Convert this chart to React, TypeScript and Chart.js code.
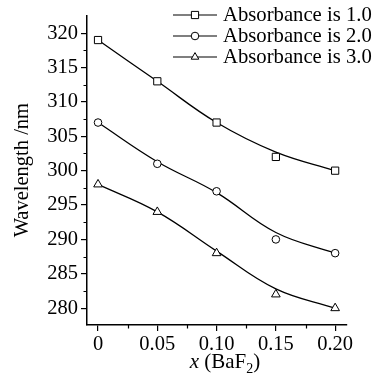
import React, { useEffect, useRef } from "react";
import { Chart, registerables } from "chart.js";

Chart.register(...registerables);

const xValues = [0, 0.05, 0.1, 0.15, 0.2];
const series1 = [319, 313, 307, 302, 300];
const series2 = [307, 301, 297, 290, 288];
const series3 = [298, 294, 288, 282, 280];
const fit1 = [319, 313, 307, 302.7, 300];
const fit2 = [307, 301.3, 296.8, 291, 288];
const fit3 = [298, 294, 288.3, 282.8, 280];
const seriesLabels = ["Absorbance is 1.0", "Absorbance is 2.0", "Absorbance is 3.0"];
const xTickValues = [0, 0.05, 0.1, 0.15, 0.2];
const xTickLabels = ["0", "0.05", "0.10", "0.15", "0.20"];
const xMinorTicks = [0.025, 0.075, 0.125, 0.175];
const yTickValues = [280, 285, 290, 295, 300, 305, 310, 315, 320];
const yMinorTicks = [282.5, 287.5, 292.5, 297.5, 302.5, 307.5, 312.5, 317.5];

const FONT = "'Liberation Serif', 'Times New Roman', serif";
const styles = ["rect", "circle", "triangle"];

function drawMarker(ctx: CanvasRenderingContext2D, style: string, x: number, y: number) {
  ctx.save();
  ctx.beginPath();
  if (style === "rect") {
    ctx.rect(x - 3.6, y - 3.6, 7.2, 7.2);
  } else if (style === "circle") {
    ctx.arc(x, y, 3.8, 0, Math.PI * 2);
  } else {
    const r = 4.4;
    ctx.moveTo(x, y - r);
    ctx.lineTo(x + r * 0.866, y + r * 0.5);
    ctx.lineTo(x - r * 0.866, y + r * 0.5);
    ctx.closePath();
  }
  ctx.fillStyle = "#fff";
  ctx.fill();
  ctx.strokeStyle = "#000";
  ctx.lineWidth = 1;
  ctx.stroke();
  ctx.restore();
}

const extrasPlugin = {
  id: "extras",
  afterDraw(chart: any) {
    const ctx = chart.ctx as CanvasRenderingContext2D;
    const xs = chart.scales.x;
    const ys = chart.scales.y;
    const area = chart.chartArea;
    ctx.save();
    ctx.strokeStyle = "#000";
    ctx.lineWidth = 1.2;
    // minor ticks
    ctx.beginPath();
    xMinorTicks.forEach((v) => {
      const px = Math.round(xs.getPixelForValue(v)) + 0.5;
      ctx.moveTo(px, area.bottom);
      ctx.lineTo(px, area.bottom + 3.5);
    });
    yMinorTicks.forEach((v) => {
      const py = Math.round(ys.getPixelForValue(v)) + 0.5;
      ctx.moveTo(area.left, py);
      ctx.lineTo(area.left - 3.5, py);
    });
    ctx.stroke();

    // legend
    const legendY = [15, 36, 57];
    ctx.font = `20.7px ${FONT}`;
    ctx.textBaseline = "middle";
    ctx.fillStyle = "#000";
    seriesLabels.forEach((lab, i) => {
      const y = legendY[i];
      ctx.beginPath();
      ctx.lineWidth = 1.2;
      ctx.moveTo(173, y);
      ctx.lineTo(217, y);
      ctx.stroke();
      drawMarker(ctx, styles[i], 195, y);
      ctx.fillStyle = "#000";
      ctx.fillText(lab, 223, y + 1);
    });

    // x axis title
    const cx = (area.left + area.right) / 2 + 8;
    const by = 368;
    ctx.textBaseline = "alphabetic";
    const partA = "x";
    const partB = " (BaF";
    const partC = "2";
    const partD = ")";
    ctx.font = `italic 21px ${FONT}`;
    const wA = ctx.measureText(partA).width;
    ctx.font = `21px ${FONT}`;
    const wB = ctx.measureText(partB).width;
    const wD = ctx.measureText(partD).width;
    ctx.font = `14px ${FONT}`;
    const wC = ctx.measureText(partC).width;
    let x = cx - (wA + wB + wC + wD) / 2;
    ctx.font = `italic 21px ${FONT}`;
    ctx.fillText(partA, x, by);
    x += wA;
    ctx.font = `21px ${FONT}`;
    ctx.fillText(partB, x, by);
    x += wB;
    ctx.font = `14px ${FONT}`;
    ctx.fillText(partC, x, by + 5);
    x += wC;
    ctx.font = `21px ${FONT}`;
    ctx.fillText(partD, x, by);
    ctx.restore();
  },
};

function pts(ys: number[]) {
  return xValues.map((x, i) => ({ x, y: ys[i] }));
}

export default function App() {
  const ref = useRef<HTMLCanvasElement>(null);
  useEffect(() => {
    if (!ref.current) return;
    const fits = [fit1, fit2, fit3];
    const sers = [series1, series2, series3];
    const datasets: any[] = [];
    fits.forEach((f) => {
      datasets.push({
        data: pts(f),
        borderColor: "#000",
        borderWidth: 1.3,
        pointRadius: 0,
        showLine: true,
        tension: 0.4,
        fill: false,
        order: 2,
      });
    });
    sers.forEach((s, i) => {
      datasets.push({
        data: pts(s),
        showLine: false,
        pointStyle: styles[i],
        pointRadius: i === 0 ? 5.1 : i === 1 ? 3.8 : 5,
        pointBackgroundColor: "#fff",
        pointBorderColor: "#000",
        pointBorderWidth: 1,
        order: 1,
      });
    });
    const chart = new Chart(ref.current, {
      type: "line",
      data: { datasets },
      options: {
        animation: false,
        responsive: false,
        layout: { padding: { top: 12, right: 30, left: 0, bottom: 0 } },
        plugins: { legend: { display: false }, tooltip: { enabled: false } },
        scales: {
          x: {
            type: "linear",
            min: -0.0093,
            max: 0.21,
            afterFit: (s: any) => {
              s.height = 54;
            },
            afterBuildTicks: (s: any) => {
              s.ticks = xTickValues.map((v) => ({ value: v }));
            },
            ticks: {
              color: "#000",
              font: { family: FONT, size: 20.5 },
              padding: 1,
              maxRotation: 0,
              autoSkip: false,
              callback: (v: any) => {
                const idx = xTickValues.findIndex((t) => Math.abs(t - v) < 1e-9);
                return idx >= 0 ? xTickLabels[idx] : "";
              },
            },
            grid: {
              display: true,
              drawOnChartArea: false,
              drawTicks: true,
              tickLength: 6,
              color: "#000",
              lineWidth: 1.2,
            },
            border: { display: true, color: "#000", width: 1.5 },
          },
          y: {
            type: "linear",
            min: 277.55,
            max: 322.6,
            afterFit: (s: any) => {
              s.width = 87;
            },
            afterBuildTicks: (s: any) => {
              s.ticks = yTickValues.map((v) => ({ value: v }));
            },
            ticks: {
              color: "#000",
              font: { family: FONT, size: 20.5 },
              padding: 3,
              autoSkip: false,
              callback: (v: any) => String(v),
            },
            grid: {
              display: true,
              drawOnChartArea: false,
              drawTicks: true,
              tickLength: 6,
              color: "#000",
              lineWidth: 1.2,
            },
            border: { display: true, color: "#000", width: 1.5 },
            title: {
              display: true,
              text: "Wavelength /nm",
              color: "#000",
              font: { family: FONT, size: 20.5 },
              padding: { top: 10, bottom: 0 },
            },
          },
        },
      },
      plugins: [extrasPlugin],
    } as any);
    return () => chart.destroy();
  }, []);
  return (
    <div style={{ position: "fixed", left: 0, top: 0, width: 377, height: 379, background: "#fff" }}>
      <canvas ref={ref} width={377} height={379} style={{ width: 377, height: 379 }} />
    </div>
  );
}
